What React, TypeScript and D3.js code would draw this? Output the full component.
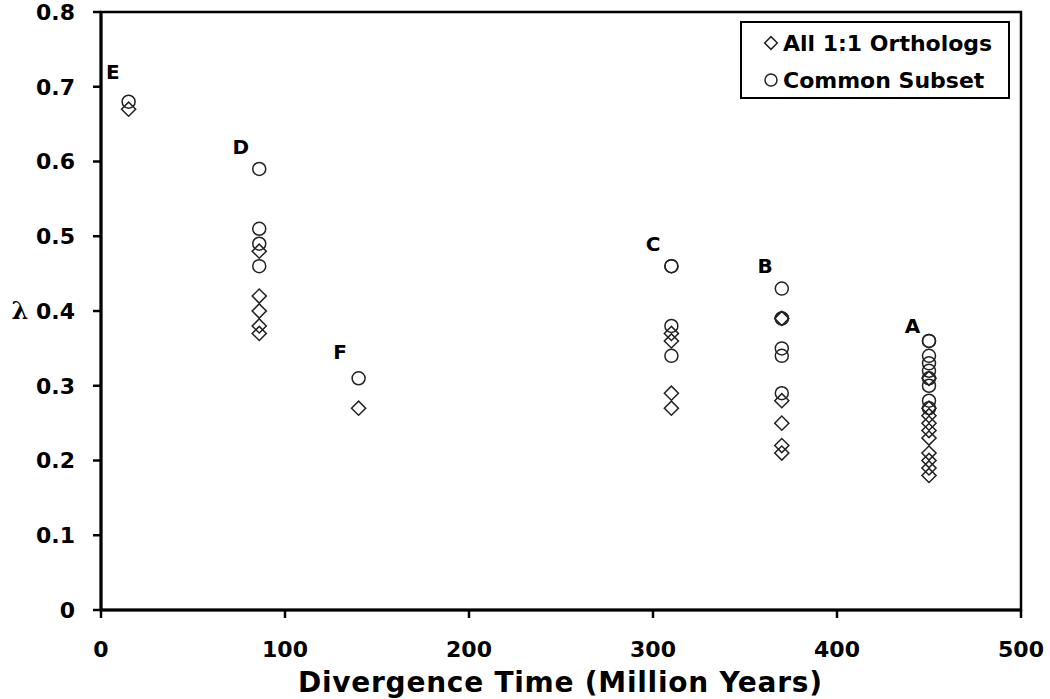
import * as d3 from "d3";

// divergence times (million years) of each group
const groups = ["E", "D", "F", "C", "B", "A"];
const groupTimes = [15, 86, 140, 310, 370, 450];

// λ values, all 1:1 orthologs (diamonds)
const orthologValues = [
  [0.67],
  [0.48, 0.42, 0.4, 0.38, 0.37],
  [0.27],
  [0.37, 0.36, 0.29, 0.27],
  [0.39, 0.28, 0.25, 0.22, 0.21],
  [0.31, 0.27, 0.26, 0.25, 0.24, 0.23, 0.21, 0.2, 0.19, 0.18],
];

// λ values, common subset (circles)
const subsetValues = [
  [0.68],
  [0.59, 0.51, 0.49, 0.46],
  [0.31],
  [0.46, 0.46, 0.38, 0.34],
  [0.43, 0.39, 0.39, 0.35, 0.34, 0.29],
  [0.36, 0.36, 0.34, 0.33, 0.32, 0.31, 0.3, 0.28, 0.27],
];

// where the group letters sit (data units)
const labelTimes = [6.5, 76, 130, 300, 361, 441];
const labelValues = [0.72, 0.62, 0.345, 0.49, 0.46, 0.38];

const xTicks = [0, 100, 200, 300, 400, 500];
const yTicks = [0, 0.1, 0.2, 0.3, 0.4, 0.5, 0.6, 0.7, 0.8];
const legendLabels = ["All 1:1 Orthologs", "Common Subset"];

const W = 1050;
const H = 699;
const font = "'DejaVu Sans', Verdana, sans-serif";

export default function App() {
  const x = d3.scaleLinear().domain([0, 500]).range([101, 1021]);
  const y = d3.scaleLinear().domain([0, 0.8]).range([610, 12]);

  const diamond = d3.symbol().type(d3.symbolSquare).size(100)();
  const ink = "#222";

  return (
    <svg
      width={W}
      height={H}
      style={{ position: "fixed", left: 0, top: 0, background: "#fff" }}
      fontFamily={font}
    >
      {/* plot frame */}
      <rect
        x={x(0)}
        y={y(0.8)}
        width={x(500) - x(0)}
        height={y(0) - y(0.8)}
        fill="none"
        stroke="#000"
        strokeWidth={2.5}
      />
      <line x1={x(0)} x2={x(0)} y1={y(0.8)} y2={y(0)} stroke="#000" strokeWidth={3} />
      <line x1={x(0)} x2={x(500)} y1={y(0)} y2={y(0)} stroke="#000" strokeWidth={3} />

      {/* y ticks */}
      {yTicks.map((t) => (
        <g key={"y" + t}>
          <line x1={x(0) - 8} x2={x(0)} y1={y(t)} y2={y(t)} stroke="#000" strokeWidth={2.5} />
          <text
            x={75}
            y={y(t)}
            dy="0.36em"
            textAnchor="end"
            fontSize={22}
            fontWeight="bold"
          >
            {t === 0 ? "0" : t.toFixed(1)}
          </text>
        </g>
      ))}

      {/* x ticks */}
      {xTicks.map((t) => (
        <g key={"x" + t}>
          <line x1={x(t)} x2={x(t)} y1={y(0)} y2={y(0) + 8} stroke="#000" strokeWidth={2.5} />
          <text x={x(t)} y={657} textAnchor="middle" fontSize={22} fontWeight="bold">
            {t}
          </text>
        </g>
      ))}

      {/* axis titles */}
      <text x={560} y={692} textAnchor="middle" fontSize={28} fontWeight="bold" textLength={524}>
        Divergence Time (Million Years)
      </text>
      <text
        x={20}
        y={319}
        textAnchor="middle"
        fontSize={24}
        fontWeight="bold"
        fontFamily="'DejaVu Serif', serif"
      >
        λ
      </text>

      {/* diamonds */}
      {groupTimes.map((t, gi) =>
        orthologValues[gi].map((v, i) => (
          <path
            key={"d" + gi + "-" + i}
            d={diamond}
            transform={`translate(${x(t)},${y(v)}) rotate(45)`}
            fill="none"
            stroke={ink}
            strokeWidth={1.5}
          />
        ))
      )}

      {/* circles */}
      {groupTimes.map((t, gi) =>
        subsetValues[gi].map((v, i) => (
          <circle
            key={"c" + gi + "-" + i}
            cx={x(t)}
            cy={y(v)}
            r={6.5}
            fill="none"
            stroke={ink}
            strokeWidth={1.5}
          />
        ))
      )}

      {/* group letters */}
      {groups.map((g, i) => (
        <text
          key={g}
          x={x(labelTimes[i])}
          y={y(labelValues[i])}
          dy="0.36em"
          textAnchor="middle"
          fontSize={20}
          fontWeight="bold"
        >
          {g}
        </text>
      ))}

      {/* legend */}
      <g>
        <rect x={741} y={22} width={268} height={76} fill="#fff" stroke="#000" strokeWidth={2} />
        <path
          d={d3.symbol().type(d3.symbolSquare).size(80)()}
          transform={`translate(771,43) rotate(45)`}
          fill="none"
          stroke={ink}
          strokeWidth={1.5}
        />
        <text x={783} y={51} fontSize={22} fontWeight="bold">
          {legendLabels[0]}
        </text>
        <circle cx={771} cy={80} r={6} fill="none" stroke={ink} strokeWidth={1.5} />
        <text x={783} y={88} fontSize={22} fontWeight="bold">
          {legendLabels[1]}
        </text>
      </g>
    </svg>
  );
}
